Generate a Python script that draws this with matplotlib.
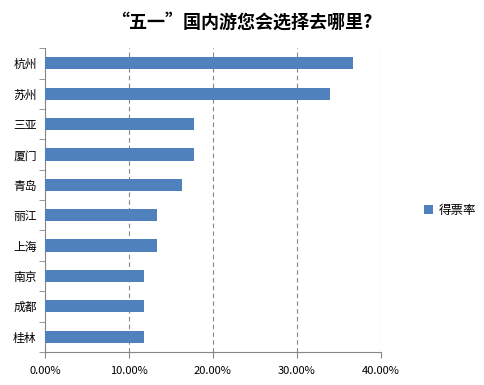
import matplotlib
matplotlib.use('Agg')
import matplotlib.pyplot as plt
from matplotlib.ticker import FuncFormatter

plt.rcParams['font.family'] = ['Noto Sans CJK SC', 'DejaVu Sans']

# 各城市得票率（自上而下）
cities = ["杭州", "苏州", "三亚", "厦门", "青岛", "丽江", "上海", "南京", "成都", "桂林"]
votes = [0.367, 0.339, 0.177, 0.177, 0.163, 0.133, 0.133, 0.118, 0.118, 0.118]
series_name = "得票率"

fig = plt.figure(figsize=(4.84, 3.85), dpi=100)
ax = fig.add_axes([0.093, 0.086, 0.694, 0.789])

y = range(len(cities))
ax.barh(y, votes, height=0.4, color='#4F81BD', label=series_name, zorder=3)
ax.set_ylim(len(cities) - 0.5, -0.5)
ax.set_xlim(0, 0.4)
ax.set_xticks([0, 0.1, 0.2, 0.3, 0.4])
ax.xaxis.set_major_formatter(FuncFormatter(lambda v, p: f'{v*100:.2f}%'))
ax.set_yticks(list(y))
ax.set_yticklabels(cities, fontsize=8.5)
ax.tick_params(axis='x', labelsize=8, length=4, color='#868686', pad=6)
ax.tick_params(axis='y', length=0, pad=6)
# 类别分隔刻度
ax.set_yticks([i - 0.5 for i in range(len(cities) + 1)], minor=True)
ax.tick_params(axis='y', which='minor', length=4, color='#868686')

ax.grid(axis='x', linestyle=(0, (4, 3)), color='#868686', linewidth=0.8, zorder=0)
for s in ['top', 'right']:
    ax.spines[s].set_visible(False)
for s in ['left', 'bottom']:
    ax.spines[s].set_color('#868686')

fig.text(0.5, 0.943, "“五一”国内游您会选择去哪里?", ha='center', va='center',
         fontsize=13, fontweight='bold')

ax.legend(loc='center left', bbox_to_anchor=(1.095, 0.465), frameon=False,
          fontsize=9, handlelength=0.7, handleheight=0.7, handletextpad=0.5)

plt.savefig("out.png", dpi=100)
